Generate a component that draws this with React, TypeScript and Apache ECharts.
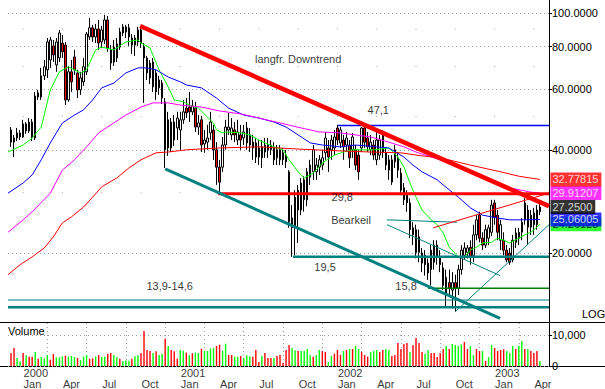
import React, { useEffect, useRef } from 'react';
import * as echarts from 'echarts';

// ---- time axis: weekly candles, week 0 = first week of Jan 2000 ----
const firstWeek = -4;
const quarterMonths = ['Jan', 'Apr', 'Jul', 'Oct'];
const firstYear = 2000;
const quarterWeeks = [0, 13, 26, 39, 52, 65, 78, 91, 104, 117, 130, 143, 156, 169];

// ---- price candles (weekly OHLC) ----
const opens = [
  45.7, 42.1, 43.3, 44.8, 43.6, 47.6, 45.4, 48.2, 43.3, 58.6,
  57.0, 65.7, 68.4, 73.1, 80.3, 70.7, 74.1, 81.9, 80.8, 55.9,
  67.5, 74.6, 67.0, 59.8, 63.1, 67.5, 85.3, 90.7, 85.3, 90.0,
  82.5, 83.6, 95.6, 78.2, 72.1, 74.1, 79.7, 87.6, 91.3, 85.3,
  84.7, 80.8, 82.5, 89.4, 79.7, 67.0, 71.6, 72.1, 67.0, 60.6,
  62.6, 55.2, 48.9, 40.5, 48.2, 46.3, 45.7, 48.9, 52.9, 53.3,
  51.6, 52.9, 46.6, 48.9, 41.6, 42.1, 44.8, 45.7, 40.0, 35.6,
  35.6, 41.3, 45.7, 44.2, 45.7, 42.7, 44.2, 43.3, 46.3, 44.2,
  42.1, 41.9, 38.1, 40.8, 39.4, 40.0, 40.0, 40.5, 37.9, 40.0,
  39.2, 38.6, 34.5, 25.3, 23.8, 30.5, 26.7, 32.7, 28.6, 33.3,
  34.5, 34.5, 35.6, 36.1, 39.2, 40.5, 40.0, 40.5, 46.3, 41.9,
  42.7, 41.3, 41.3, 40.0, 40.0, 38.6, 40.5, 46.3, 43.3, 40.0,
  41.3, 37.4, 38.6, 44.2, 39.2, 34.9, 37.4, 40.0, 37.9, 34.2,
  31.0, 29.5, 28.0, 22.6, 23.4, 20.1, 20.0, 19.7, 18.7, 17.9,
  18.8, 21.1, 19.5, 16.1, 17.0, 16.4, 15.6, 16.4, 15.8, 17.9,
  19.7, 20.1, 20.8, 19.7, 22.6, 25.8, 22.1, 21.1, 22.1, 23.0,
  28.0, 25.8, 21.8, 21.8, 20.4, 20.0, 19.1, 21.5, 22.1, 23.0,
  25.0, 26.7, 23.8, 26.2, 24.2, 26.4,
];
const closes = [
  42.1, 43.3, 44.8, 43.6, 47.6, 45.4, 48.2, 43.3, 57.4, 57.0,
  65.7, 69.8, 82.5, 83.6, 75.6, 82.5, 87.6, 77.2, 55.9, 67.5,
  63.1, 68.4, 59.8, 64.8, 69.8, 87.0, 90.7, 85.3, 90.0, 81.9,
  89.4, 95.6, 79.2, 71.6, 79.7, 81.4, 88.2, 91.3, 88.2, 90.7,
  80.8, 84.7, 89.4, 81.9, 74.1, 74.1, 64.8, 61.0, 59.0, 63.9,
  56.6, 40.0, 40.5, 48.2, 42.7, 49.5, 48.9, 51.6, 51.2, 51.6,
  53.6, 46.6, 47.9, 41.3, 42.7, 43.3, 48.2, 40.0, 35.6, 32.2,
  41.3, 46.6, 46.6, 46.3, 44.2, 45.1, 42.7, 45.1, 41.9, 41.3,
  40.5, 38.1, 40.5, 37.9, 41.3, 41.3, 41.3, 37.4, 40.0, 37.4,
  37.4, 36.9, 24.6, 23.7, 29.1, 26.7, 32.0, 28.6, 34.5, 36.1,
  40.0, 36.1, 37.4, 37.9, 43.3, 38.1, 42.7, 43.6, 42.7, 45.7,
  40.8, 43.3, 37.9, 43.6, 36.1, 34.5, 46.3, 42.1, 40.8, 42.1,
  38.6, 42.7, 42.7, 39.4, 36.1, 37.4, 32.2, 36.9, 34.9, 30.5,
  28.6, 28.0, 23.4, 23.7, 20.1, 22.3, 18.7, 18.5, 17.5, 20.4,
  21.1, 19.5, 18.5, 18.1, 15.3, 15.8, 16.4, 15.8, 17.9, 20.4,
  20.7, 20.7, 19.5, 22.6, 25.0, 22.1, 21.1, 23.4, 23.7, 27.6,
  25.5, 23.0, 24.2, 20.4, 19.1, 18.8, 21.8, 22.9, 23.0, 24.6,
  28.0, 23.8, 25.8, 24.2, 26.7, 27.25,
];
const lows = [
  40.8, 38.1, 42.4, 42.7, 43.3, 44.5, 44.8, 42.4, 42.7, 55.9,
  55.9, 63.9, 64.8, 69.3, 72.1, 67.5, 72.1, 74.1, 54.0, 55.2,
  59.0, 66.1, 56.6, 57.8, 61.4, 66.1, 83.6, 82.5, 81.9, 78.2,
  79.2, 81.4, 77.2, 68.4, 70.2, 72.1, 78.2, 85.8, 84.7, 80.3,
  76.1, 75.1, 80.3, 79.2, 54.8, 63.9, 62.2, 59.0, 55.9, 57.8,
  54.4, 35.4, 38.4, 39.4, 41.0, 42.7, 40.0, 47.6, 49.5, 48.2,
  50.5, 45.1, 44.2, 39.4, 39.2, 40.0, 42.7, 37.4, 31.6, 29.9,
  34.5, 40.0, 44.2, 42.7, 42.1, 41.3, 40.0, 41.3, 40.0, 39.4,
  37.4, 36.6, 36.1, 35.4, 37.9, 37.9, 38.6, 36.1, 36.1, 36.1,
  36.1, 35.4, 23.7, 19.5, 19.7, 21.4, 25.8, 26.4, 27.4, 31.6,
  32.7, 32.7, 33.8, 34.9, 37.4, 34.5, 37.4, 38.6, 41.3, 40.5,
  37.4, 39.4, 35.4, 37.9, 34.9, 32.7, 39.4, 40.5, 39.4, 38.6,
  37.4, 36.1, 37.4, 37.9, 34.9, 32.7, 31.6, 35.4, 33.1, 29.5,
  27.6, 26.4, 22.1, 21.1, 19.3, 18.8, 17.6, 17.2, 16.7, 16.1,
  17.9, 18.5, 17.6, 15.6, 13.9, 15.1, 13.8, 13.5, 15.1, 17.3,
  19.1, 19.3, 18.5, 18.8, 21.8, 21.5, 20.4, 20.7, 21.1, 22.4,
  24.2, 21.8, 20.4, 19.7, 18.8, 18.5, 18.8, 20.7, 21.1, 21.8,
  24.2, 21.1, 22.6, 22.6, 23.4, 25.8,
];
const highs = [
  46.6, 44.2, 46.3, 45.7, 48.9, 48.2, 49.5, 49.2, 59.0, 59.8,
  69.3, 73.1, 84.7, 85.3, 83.6, 84.7, 89.4, 86.4, 82.5, 70.2,
  73.1, 78.2, 68.4, 67.5, 74.1, 88.2, 96.9, 92.5, 93.1, 95.6,
  91.9, 98.9, 98.2, 80.8, 83.6, 84.7, 90.7, 93.1, 92.5, 93.1,
  87.0, 86.4, 91.3, 91.3, 81.9, 75.1, 73.1, 74.1, 68.4, 65.7,
  63.9, 56.6, 51.6, 49.5, 50.5, 51.6, 51.6, 55.9, 56.6, 59.0,
  55.9, 55.2, 50.5, 50.2, 45.7, 47.3, 51.6, 47.3, 42.1, 37.4,
  43.6, 48.9, 51.2, 49.5, 48.2, 48.9, 47.3, 47.3, 48.2, 46.3,
  44.2, 43.3, 42.7, 42.7, 43.3, 43.3, 42.7, 42.1, 41.3, 41.3,
  40.5, 40.0, 34.9, 27.6, 30.5, 31.6, 33.1, 33.5, 35.4, 37.4,
  41.3, 37.9, 38.6, 40.0, 45.1, 42.7, 44.2, 45.7, 47.3, 46.6,
  44.2, 45.1, 42.7, 44.8, 41.3, 40.0, 46.6, 46.6, 45.1, 44.2,
  42.7, 45.1, 44.2, 45.7, 40.5, 38.6, 38.6, 41.3, 39.4, 35.4,
  32.0, 30.5, 28.9, 24.6, 24.2, 23.4, 20.7, 20.4, 19.3, 21.1,
  21.8, 21.8, 20.4, 18.8, 17.9, 17.9, 17.6, 17.3, 18.5, 21.1,
  21.5, 21.1, 21.8, 24.2, 25.8, 26.4, 23.0, 24.2, 24.2, 28.6,
  28.6, 26.7, 25.0, 23.0, 21.1, 20.7, 22.6, 23.7, 23.7, 25.3,
  28.9, 27.6, 26.7, 27.1, 27.6, 28.2,
];

// ---- weekly volume ----
const volumes = [
  4193, 5805, 2580, 1505, 4193, 3440, 3010, 3010, 4515, 2365,
  2903, 2365, 3548, 2043, 3870, 2795, 2795, 3118, 3333, 3010,
  3225, 2903, 2580, 1935, 3010, 3548, 2365, 2473, 3010, 3548,
  2903, 3010, 3978, 4193, 3548, 2795, 2365, 1613, 1828, 1720,
  2365, 3118, 3440, 4193, 11288, 5160, 4838, 4193, 4730, 3548,
  3978, 8815, 6450, 5160, 4730, 2365, 5160, 4945, 4300, 3440,
  4085, 4300, 4193, 5590, 4945, 4838, 5590, 5805, 6450, 6880,
  4945, 7203, 3548, 3548, 3010, 2903, 3225, 2580, 3440, 3118,
  3010, 5160, 1290, 3333, 4193,
  2580, 2580, 2580, 3225, 3548, 968, 5160, 6773, 5805, 5053,
  4838, 4838, 4838, 5483, 3548, 3010, 3548, 5160, 4838, 4515,
  1290, 3225, 3978, 5160, 3548, 4838, 5160, 5483, 5483, 6450,
  5483, 4515, 3548, 3010, 4515, 4838, 5160, 4515, 5160, 5483,
  5160, 3225, 3548, 7418, 5483, 7095, 7418, 4515, 6773, 9030,
  7418, 4515, 3978, 5160, 4193, 4193, 2903, 4193, 5483, 6450,
  5483, 7095, 6773, 6450, 6988, 7740, 5483, 6450, 3548, 5483,
  4838, 4838, 1613, 2903, 6773, 5805, 4838, 5160, 5375, 4838,
  4193, 6450, 5483, 6450, 8063, 5483, 5483, 4838, 4193, 4838,
  1613,
];
// r = down week (red bar), g = up week (green bar)
const volumeDirections = (
  'rrggrgrrgr' + 'gggrrgggrg' + 'ggrgggrrgr' + 'ggrrggrggg' + 'rggrrrrgrg' +
  'grgrrrggrg' + 'rggrggggrr' + 'ggrrggrggg' + 'rrrgr' +
  'rrgrrrrrgg' + 'rggggrggrr' + 'ggrrrgrgrg' + 'grrrgggrrg' + 'grrrrrrgrr' +
  'rrggrrrrrg' + 'rggggrrggr' + 'rgrggrrrrg' + 'ggrggrgrrrg'
).split('');

// ---- moving averages [week, value] ----
const maGreen = [
  [-5, 39.4], [0, 41.3], [3, 43.3], [6, 46.6], [9, 59.8], [12, 67.5], [15, 69.8], [19, 67.0],
  [21, 68.4], [24, 78.2], [26, 79.7], [30, 78.2], [34, 82.5], [38, 83.6], [39, 81.9], [42, 79.2],
  [45, 68.4], [48, 61.0], [50, 55.9], [53, 55.2], [55, 54.0], [58, 52.9], [61, 49.8], [63, 47.9],
  [64, 45.7], [66, 44.8], [67, 45.1], [72, 44.8], [75, 44.2], [78, 42.7], [83, 40.8], [86, 40.0],
  [88, 37.4], [91, 34.5], [93, 33.1], [96, 34.2], [99, 36.6], [103, 38.6], [106, 39.4], [109, 40.0],
  [116, 40.0], [121, 40.5], [124, 38.1], [126, 35.6], [128, 32.0], [130, 29.1], [132, 26.7],
  [135, 25.0], [137, 24.2], [139, 22.9], [141, 20.8], [144, 19.5], [146, 19.5], [148, 20.4],
  [150, 20.8], [152, 21.4], [155, 21.5], [157, 22.1], [159, 21.8], [161, 21.4], [164, 22.1],
  [166, 22.6], [168, 23.0], [170, 23.8], [171, 24.26128],
];
const maBlue = [
  [-5, 29.9], [0, 32.0], [3, 33.8], [6, 37.4], [9, 41.9], [13, 47.9], [17, 50.5], [20, 52.3],
  [23, 55.9], [26, 60.6], [30, 62.6], [34, 67.0], [38, 69.3], [41, 69.3], [44, 68.4], [48, 65.2],
  [52, 63.1], [54, 61.8], [59, 60.6], [64, 56.6], [68, 52.9], [73, 50.5], [78, 49.5], [83, 48.2],
  [87, 46.6], [92, 43.6], [95, 41.9], [99, 41.3], [105, 40.8], [110, 41.3], [117, 40.8],
  [121, 40.5], [126, 38.1], [129, 36.1], [132, 34.5], [137, 32.7], [139, 31.6], [144, 29.1],
  [148, 27.1], [152, 25.8], [157, 25.3], [161, 25.0], [165, 25.0], [171, 25.06005],
];
const maMagenta = [
  [-5, 23.0], [0, 25.0], [3, 26.4], [9, 29.9], [13, 34.9], [17, 37.4], [21, 40.8], [25, 44.8],
  [30, 47.9], [34, 50.5], [39, 53.3], [43, 54.8], [48, 54.8], [52, 54.0], [59, 53.3], [65, 51.9],
  [72, 50.9], [78, 49.5], [85, 47.9], [92, 46.3], [98, 45.1], [105, 44.8], [115, 43.6],
  [121, 42.1], [126, 40.8], [130, 39.4], [135, 38.1], [138, 37.4], [148, 34.5], [158, 31.4],
  [168, 30.1], [171, 29.91207],
];
const maRed = [
  [-5, 17.3], [-1, 18.5], [3, 19.5], [7, 20.7], [10, 22.3], [13, 24.5], [16, 25.5], [20, 27.25],
  [23, 29.1], [26, 31.2], [31, 33.1], [35, 35.4], [39, 37.4], [44, 39.2], [48, 39.4], [54, 40.0],
  [65, 40.5], [78, 40.8], [91, 40.2], [105, 39.7], [115, 39.4], [125, 39.2], [132, 38.4],
  [138, 37.9], [148, 36.1], [158, 34.5], [164, 33.5], [171, 32.77815],
];

// ---- drawn trend / support lines [week, value] ----
const downtrend = [[38.7, 91.8], [174, 27.4]];
const lowerChannel = [[47, 35.2], [157.8, 12.9]];
const level298 = [[64.5, 29.8], [174, 29.8]];
const level195 = [[89.3, 19.5], [174, 19.5]];
const level471 = [[104.2, 47.1], [174, 47.1]];
const level158 = [[134, 15.8], [174, 15.8]];
const level146 = [[-5, 14.6], [174, 14.6]];
const level139 = [[-5, 13.9], [174, 13.9]];
const wedgeUpper = [[135.7, 23.7], [174, 29.9]];
const wedgeLower = [[143, 13.5], [174, 24.2]];
const wedgeFlat = [[120.4, 25.0], [143.6, 24.6]];
const wedgeDesc = [[120.4, 24.2], [157.8, 17.2]];

// ---- last-value boxes on the price scale ----
const lastLabels = [
  { value: 24.26128, text: '24.26128', bg: '#00ff00', fg: '#000000' },
  { value: 25.06005, text: '25.06005', bg: '#0000ff', fg: '#ffffff' },
  { value: 27.25, text: '27.2500', bg: '#000000', fg: '#ffffff' },
  { value: 29.91207, text: '29.91207', bg: '#ff00ff', fg: '#ffffff' },
  { value: 32.77815, text: '32.77815', bg: '#ff0000', fg: '#ffffff' },
];

// ---- annotations ----
const annoTexts = ['langfr. Downtrend', '47,1', '29,8', 'Bearkeil', '19,5', '15,8', '13,9-14,6'];
const annoWeeks = [91.0, 117.5, 105.6, 108.5, 99.9, 126.7, 48.5];
const annoValues = [73.4, 52.3, 29.1, 25.0, 18.2, 16.0, 16.0];

// ---- axis ticks ----
const priceTicks = [20, 40, 60, 80, 100];
const minorPriceLevels = [90, 70, 50, 30];
const volumeMax = 13870;

const FONT = '"Liberation Sans", Arial, sans-serif';

export default function App() {
  const ref = useRef<HTMLDivElement>(null);

  useEffect(() => {
    if (!ref.current) return;
    const chart = echarts.init(ref.current, null, { renderer: 'svg' });

    const candleData = opens.map((o, i) => [firstWeek + i, o, closes[i], lows[i], highs[i]]);
    const volumeData = volumes.map((v, i) => ({
      value: [firstWeek + i, v],
      itemStyle: { color: volumeDirections[i] === 'r' ? '#ff0000' : '#00ff00' },
    }));
    const gridDots: number[][] = [];
    quarterWeeks.forEach((w) => minorPriceLevels.forEach((lv) => gridDots.push([w, lv])));

    const line = (data: number[][], color: string, width: number, extra: any = {}) => ({
      type: 'line',
      xAxisIndex: 0,
      yAxisIndex: 0,
      data,
      showSymbol: false,
      symbol: 'none',
      silent: true,
      lineStyle: { color, width },
      itemStyle: { color },
      ...extra,
    });

    const quarterLabel = (w: number) => {
      const q = Math.round(w / 13);
      const m = quarterMonths[q % 4];
      return q % 4 === 0 ? `${firstYear + q / 4}\n${m}` : `\n${m}`;
    };

    // last-value boxes: points sitting on the right edge of the price scale
    const boxSeries = lastLabels.map((b, i) => ({
      type: 'scatter',
      xAxisIndex: 0,
      yAxisIndex: 0,
      silent: true,
      symbolSize: 1,
      clip: false,
      z: 20 + i,
      itemStyle: { color: 'rgba(0,0,0,0)' },
      label: {
        show: true,
        position: 'right',
        distance: 1,
        formatter: b.text,
        backgroundColor: b.bg,
        color: b.fg,
        padding: [1, 3, 1, 2],
        fontSize: 11,
        lineHeight: 12,
        fontFamily: FONT,
      },
      data: [[174, b.value]],
    }));

    const option: any = {
      animation: false,
      backgroundColor: '#ffffff',
      textStyle: { fontFamily: FONT, fontSize: 11 },
      grid: [
        { left: 8, top: 0, width: 541, height: 323, outerBoundsMode: 'none', containLabel: false },
        { left: 8, top: 323, width: 541, height: 43, outerBoundsMode: 'none', containLabel: false },
      ],
      xAxis: [
        {
          type: 'value', gridIndex: 0, min: -5, max: 174, interval: 13,
          axisLine: { show: false, onZero: false }, axisTick: { show: false }, axisLabel: { show: false },
          splitLine: { show: false },
        },
        {
          type: 'value', gridIndex: 1, min: -5, max: 174, interval: 13,
          axisLine: { show: false, onZero: false }, axisTick: { show: false }, axisLabel: { show: false },
          splitLine: {
            show: true, showMinLine: false, showMaxLine: false,
            lineStyle: { color: '#a0a0a0', type: [1, 3], width: 1 },
          },
        },
      ],
      yAxis: [
        {
          type: 'log', gridIndex: 0, position: 'right', logBase: 10, min: 12.51, max: 109.3,
          axisLine: { show: true, onZero: false, lineStyle: { color: '#000', width: 1 } },
          axisTick: { show: true, length: 3, customValues: priceTicks, lineStyle: { color: '#000' } },
          axisLabel: {
            show: true, customValues: priceTicks, margin: 3, color: '#000', fontSize: 11, fontFamily: FONT,
            formatter: (v: number) => Number(v).toFixed(4),
          },
          splitLine: { show: true, lineStyle: { color: '#a0a0a0', type: [1, 3], width: 1 } },
        },
        {
          type: 'value', gridIndex: 1, position: 'right', min: 0, max: volumeMax, interval: 10000,
          axisLine: { show: true, onZero: false, lineStyle: { color: '#000', width: 1 } },
          axisTick: { show: true, length: 3, lineStyle: { color: '#000' } },
          axisLabel: {
            show: true, margin: 3, color: '#000', fontSize: 11, fontFamily: FONT, showMaxLabel: false,
            formatter: (v: number) => (v === 10000 ? '10,000' : v === 0 ? '0' : ''),
          },
          splitLine: { show: true, showMaxLine: false, lineStyle: { color: '#a0a0a0', type: [1, 3], width: 1 } },
        },
      ],
      series: [
        {
          type: 'scatter', xAxisIndex: 0, yAxisIndex: 0, silent: true, symbol: 'rect', symbolSize: 1,
          itemStyle: { color: '#909090' }, data: gridDots, z: 1,
        },
        {
          type: 'candlestick', xAxisIndex: 0, yAxisIndex: 0, silent: true,
          data: candleData, encode: { x: 0, y: [1, 2, 3, 4] }, barWidth: 2,
          itemStyle: { color: '#ffffff', color0: '#ff0000', borderColor: '#000000', borderColor0: '#000000', borderWidth: 1 },
        },
        line(maGreen, '#00ff00', 1),
        line(maBlue, '#0000ff', 1),
        line(maMagenta, '#ff00ff', 1),
        line(maRed, '#ff0000', 1),
        line(level146, '#008080', 1.2),
        line(level139, '#008080', 2.5),
        line(level158, '#008000', 1.5),
        line(level471, '#0000ff', 1.5),
        line(level195, '#008080', 2.5),
        line(level298, '#ff0000', 3),
        line(wedgeFlat, '#008080', 1),
        line(wedgeDesc, '#008080', 1),
        line(wedgeLower, '#008080', 1),
        line(wedgeUpper, '#ff0000', 1),
        line(lowerChannel, '#008080', 3),
        line(downtrend, '#ff0000', 4.5),
        {
          type: 'scatter', xAxisIndex: 0, yAxisIndex: 0, silent: true, symbolSize: 1, z: 10,
          itemStyle: { color: 'rgba(0,0,0,0)' },
          label: { show: true, position: 'inside', color: '#000', fontSize: 11, fontFamily: FONT, formatter: '{b}' },
          data: annoTexts.map((s, i) => ({ name: s, value: [annoWeeks[i], annoValues[i]] })),
        },
        ...boxSeries,
        {
          type: 'bar', xAxisIndex: 1, yAxisIndex: 1, silent: true, barWidth: 1.4,
          data: volumeData,
        },
        // quarter / year labels under the volume panel, anchored at each quarter's grid line
        {
          type: 'scatter', xAxisIndex: 1, yAxisIndex: 1, silent: true, symbolSize: 1, clip: false, z: 10,
          itemStyle: { color: 'rgba(0,0,0,0)' },
          label: {
            show: true, position: [1, 2], align: 'left', verticalAlign: 'top',
            color: '#000', fontSize: 11, lineHeight: 11, fontFamily: FONT,
            formatter: (p: any) => quarterLabel(p.value[0]),
          },
          data: quarterWeeks.map((w) => [w, 0]),
        },
      ],
      graphic: {
        elements: [
          { type: 'line', silent: true, shape: { x1: 0, y1: 322.5, x2: 605, y2: 322.5 }, style: { stroke: '#000', lineWidth: 1 } },
          { type: 'line', silent: true, shape: { x1: 0, y1: 366.5, x2: 605, y2: 366.5 }, style: { stroke: '#000', lineWidth: 1 } },
          { type: 'text', silent: true, x: 8, y: 325, style: { text: 'Volume', fill: '#000', font: `11px ${FONT}` } },
          { type: 'text', silent: true, x: 582, y: 308, style: { text: 'LOG', fill: '#000', font: `11px ${FONT}` } },
        ],
      },
    };

    chart.setOption(option);
    return () => chart.dispose();
  }, []);

  return <div ref={ref} style={{ position: 'absolute', left: 0, top: 0, width: 605, height: 389 }} />;
}
